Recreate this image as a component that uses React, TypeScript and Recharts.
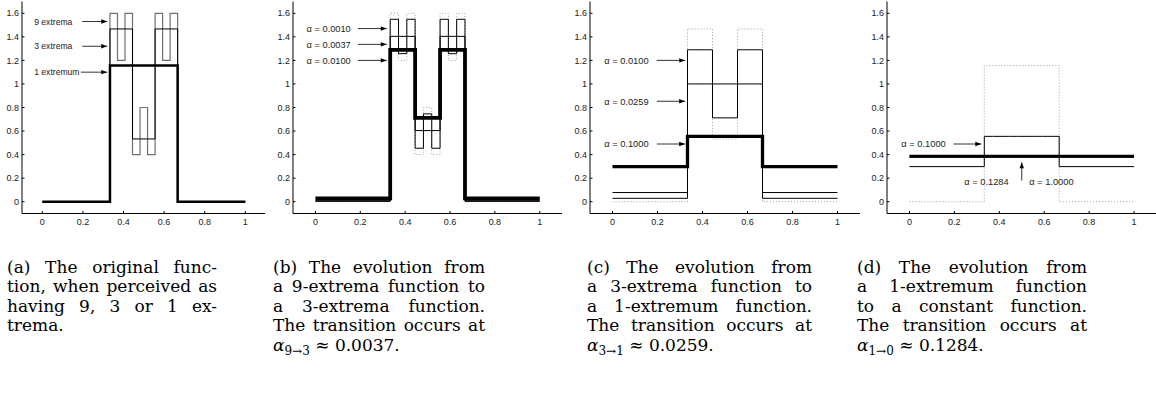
import React from 'react';
import { LineChart, Line, XAxis, YAxis, ReferenceLine, ReferenceDot } from 'recharts';

// ---------- data ----------
const BREAKS = [0, 0.3333, 0.3704, 0.4074, 0.4444, 0.4815, 0.5185, 0.5556, 0.5926, 0.6296, 0.6667, 1];
const X_TICKS = [0, 0.2, 0.4, 0.6, 0.8, 1];
const Y_TICKS = [0, 0.2, 0.4, 0.6, 0.8, 1, 1.2, 1.4, 1.6];

// original functions (9, 3, 1 extrema)
const F9 = [0, 1.6, 1.2, 1.6, 0.4, 0.8, 0.4, 1.6, 1.2, 1.6, 0];
const F3 = [0, 1.467, 1.467, 1.467, 0.533, 0.533, 0.533, 1.467, 1.467, 1.467, 0];
const F1 = [0, 1.156, 1.156, 1.156, 1.156, 1.156, 1.156, 1.156, 1.156, 1.156, 0];

// evolved functions
const A0010 = [0.003, 1.549, 1.257, 1.549, 0.454, 0.746, 0.454, 1.549, 1.257, 1.549, 0.003];
const A0037 = [0.009, 1.404, 1.404, 1.404, 0.604, 0.604, 0.604, 1.404, 1.404, 1.404, 0.009];
const A0100 = [0.029, 1.29, 1.29, 1.29, 0.712, 0.712, 0.712, 1.29, 1.29, 1.29, 0.029];
const A0259 = [0.078, 1.0, 1.0, 1.0, 1.0, 1.0, 1.0, 1.0, 1.0, 1.0, 0.078];
const A1000 = [0.298, 0.555, 0.555, 0.555, 0.555, 0.555, 0.555, 0.555, 0.555, 0.555, 0.298];
const A1284 = [0.378, 0.378, 0.378, 0.378, 0.378, 0.378, 0.378, 0.378, 0.378, 0.378, 0.378];
const A10000 = [0.386, 0.386, 0.386, 0.386, 0.386, 0.386, 0.386, 0.386, 0.386, 0.386, 0.386];

// annotation labels and arrows (data coordinates)
const LABELS_A = [
  { text: '9 extrema', x: -0.04, y: 1.53 },
  { text: '3 extrema', x: -0.04, y: 1.32 },
  { text: '1 extremum', x: -0.04, y: 1.1 },
];
const ARROWS_A = [
  { x1: 0.197, y1: 1.53, x2: 0.32, y2: 1.53 },
  { x1: 0.197, y1: 1.32, x2: 0.32, y2: 1.32 },
  { x1: 0.19, y1: 1.1, x2: 0.32, y2: 1.1 },
];
const LABELS_B = [
  { text: 'α = 0.0010', x: -0.04, y: 1.47 },
  { text: 'α = 0.0037', x: -0.04, y: 1.336 },
  { text: 'α = 0.0100', x: -0.04, y: 1.2 },
];
const ARROWS_B = [
  { x1: 0.189, y1: 1.47, x2: 0.318, y2: 1.47 },
  { x1: 0.189, y1: 1.336, x2: 0.318, y2: 1.336 },
  { x1: 0.189, y1: 1.2, x2: 0.318, y2: 1.2 },
];
const LABELS_C = [
  { text: 'α = 0.0100', x: -0.037, y: 1.2 },
  { text: 'α = 0.0259', x: -0.037, y: 0.853 },
  { text: 'α = 0.1000', x: -0.037, y: 0.49 },
];
const ARROWS_C = [
  { x1: 0.197, y1: 1.2, x2: 0.323, y2: 1.2 },
  { x1: 0.197, y1: 0.853, x2: 0.323, y2: 0.853 },
  { x1: 0.197, y1: 0.49, x2: 0.323, y2: 0.49 },
];
const LABELS_D = [
  { text: 'α = 0.1000', x: -0.036, y: 0.49 },
  { text: 'α = 0.1284', x: 0.244, y: 0.167 },
  { text: 'α = 1.0000', x: 0.533, y: 0.167 },
];
const ARROWS_D = [
  { x1: 0.196, y1: 0.49, x2: 0.32, y2: 0.49 },
  { x1: 0.5, y1: 0.18, x2: 0.5, y2: 0.335 },
];

const CAPTION_A = ['(a) The original func-', 'tion, when perceived as', 'having 9, 3 or 1 ex-', 'trema.'];
const CAPTION_B = ['(b) The evolution from', 'a 9-extrema function to', 'a 3-extrema function.', 'The transition occurs at'];
const CAPTION_C = ['(c) The evolution from', 'a 3-extrema function to', 'a 1-extremum function.', 'The transition occurs at'];
const CAPTION_D = ['(d) The evolution from', 'a 1-extremum function', 'to a constant function.', 'The transition occurs at'];
const MATH_B = { sub: '9→3', value: '0.0037.' };
const MATH_C = { sub: '3→1', value: '0.0259.' };
const MATH_D = { sub: '1→0', value: '0.1284.' };

// ---------- helpers ----------
const steps = (vals: number[]) => BREAKS.map((x, i) => ({ x, y: vals[Math.min(i, vals.length - 1)] }));

const STYLES: Record<string, { stroke: string; width: number; dash?: string }> = {
  dotted: { stroke: '#a0a0a0', width: 1, dash: '1 2' },
  gray: { stroke: '#707070', width: 1.2 },
  thin: { stroke: '#000', width: 1 },
};

const TICK_FONT = 'Liberation Sans, Arial, sans-serif';
const YTM = 3;
const XTM = 5;

const YTick = (p: any) => {
  const { x, y, payload } = p;
  return (
    <g>
      <line x1={x + YTM} x2={x + YTM + 2.5} y1={y} y2={y} stroke="#000" strokeWidth={1} />
      <text x={x} y={y} dy="0.35em" textAnchor="end" fontSize={9} fontFamily={TICK_FONT} fill="#222">
        {String(payload.value)}
      </text>
    </g>
  );
};
const XTick = (p: any) => {
  const { x, y, payload } = p;
  return (
    <g>
      <line x1={x} x2={x} y1={y - XTM} y2={y - XTM - 2.5} stroke="#000" strokeWidth={1} />
      <text x={x} y={y} dy="0.75em" textAnchor="middle" fontSize={9} fontFamily={TICK_FONT} fill="#222">
        {String(payload.value)}
      </text>
    </g>
  );
};

type Series = { vals: number[]; kind: string; width?: number };
type Lbl = { text: string; x: number; y: number };
type Arr = { x1: number; y1: number; x2: number; y2: number };

const YW = 30;
const XH = 20;
const TOP = 1.5;
const PH = 212;

function Panel({ left, plotW, series, labels, arrows, labelSize }: { left: number; plotW: number; series: Series[]; labels: Lbl[]; arrows: Arr[]; labelSize: number }) {
  return (
    <div style={{ position: 'absolute', left: left - YW, top: 0 }}>
      <LineChart width={YW + plotW} height={TOP + PH + XH} margin={{ top: TOP, right: 0, bottom: 0, left: 0 }}>
        <XAxis
          type="number"
          dataKey="x"
          domain={[-0.1, 1.1]}
          ticks={X_TICKS}
          allowDataOverflow
          interval={0}
          tickLine={false}
          tickSize={0}
          tickMargin={XTM}
          height={XH}
          axisLine={{ stroke: '#000', strokeWidth: 1 }}
          tick={(p: any) => <XTick {...p} />}
        />
        <YAxis
          type="number"
          domain={[-0.1, 1.7]}
          ticks={Y_TICKS}
          allowDataOverflow
          interval={0}
          tickLine={false}
          tickSize={0}
          tickMargin={YTM}
          width={YW}
          axisLine={{ stroke: '#000', strokeWidth: 1 }}
          tick={(p: any) => <YTick {...p} />}
        />
        {series.map((s, i) => {
          const st = s.kind === 'thick' ? { stroke: '#000', width: s.width || 3 } : STYLES[s.kind];
          return (
            <Line
              key={i}
              data={steps(s.vals)}
              dataKey="y"
              type="stepAfter"
              dot={false}
              activeDot={false}
              isAnimationActive={false}
              stroke={st.stroke}
              strokeWidth={st.width}
              strokeDasharray={(st as any).dash}
            />
          );
        })}
        {arrows.map((a, i) => (
          <ReferenceLine
            key={'al' + i}
            segment={[{ x: a.x1, y: a.y1 }, { x: a.x2, y: a.y2 }]}
            stroke="#333"
            strokeWidth={1}
            ifOverflow="visible"
          />
        ))}
        {arrows.map((a, i) => {
          const up = a.x1 === a.x2;
          return (
            <ReferenceDot
              key={'ah' + i}
              x={a.x2}
              y={a.y2}
              r={0}
              ifOverflow="visible"
              shape={(p: any) => {
                const { cx, cy } = p;
                const pts = up
                  ? `${cx},${cy} ${cx - 2.2},${cy + 6} ${cx + 2.2},${cy + 6}`
                  : `${cx},${cy} ${cx - 6},${cy - 2.2} ${cx - 6},${cy + 2.2}`;
                return <polygon points={pts} fill="#000" />;
              }}
            />
          );
        })}
        {labels.map((l, i) => (
          <ReferenceDot
            key={'lb' + i}
            x={l.x}
            y={l.y}
            r={0}
            ifOverflow="visible"
            shape={(p: any) => (
              <text x={p.cx} y={p.cy} dy="0.35em" fontSize={labelSize} fontFamily={TICK_FONT} fill="#222">
                {l.text}
              </text>
            )}
          />
        ))}
      </LineChart>
    </div>
  );
}

function Caption({ left, width, lines, math, lastPlain }: { left: number; width: number; lines: string[]; math?: { sub: string; value: string }; lastPlain?: boolean }) {
  return (
    <div
      style={{
        position: 'absolute',
        left,
        top: 257.5,
        width,
        fontFamily: 'DejaVu Serif, serif',
        fontSize: 17,
        lineHeight: '19.5px',
        color: '#000',
      }}
    >
      {lines.map((t, i) => {
        const justify = !(lastPlain && i === lines.length - 1);
        return (
          <div key={i} style={{ textAlign: justify ? 'justify' : 'left', textAlignLast: justify ? 'justify' : 'left', whiteSpace: 'nowrap' as any }}>
            {t}
          </div>
        );
      })}
      {math && (
        <div style={{ whiteSpace: 'nowrap' }}>
          <i>α</i>
          <span style={{ fontSize: 12, position: 'relative', top: 4 }}>{math.sub}</span> ≈ {math.value}
        </div>
      )}
    </div>
  );
}

export default function App() {
  return (
    <div style={{ position: 'absolute', left: 0, top: 0, width: 1156, height: 394, overflow: 'hidden', background: '#fff' }}>
      <Panel
        left={21.7}
        plotW={243.6}
        labelSize={8.6}
        series={[
          { vals: F9, kind: 'gray' },
          { vals: F3, kind: 'thin' },
          { vals: F1, kind: 'thick', width: 2.5 },
        ]}
        labels={LABELS_A}
        arrows={ARROWS_A}
      />
      <Panel
        left={293.3}
        plotW={269.2}
        labelSize={9.3}
        series={[
          { vals: F9, kind: 'dotted' },
          { vals: A0010, kind: 'thin' },
          { vals: A0037, kind: 'thin' },
          { vals: A0100, kind: 'thick', width: 3.8 },
        ]}
        labels={LABELS_B}
        arrows={ARROWS_B}
      />
      <Panel
        left={589.8}
        plotW={270}
        labelSize={9.3}
        series={[
          { vals: F3, kind: 'dotted' },
          { vals: A0100, kind: 'thin' },
          { vals: A0259, kind: 'thin' },
          { vals: A1000, kind: 'thick', width: 3.3 },
        ]}
        labels={LABELS_C}
        arrows={ARROWS_C}
      />
      <Panel
        left={886.5}
        plotW={269.5}
        labelSize={9.3}
        series={[
          { vals: F1, kind: 'dotted' },
          { vals: A1000, kind: 'thin' },
          { vals: A1284, kind: 'thin' },
          { vals: A10000, kind: 'thick', width: 2.8 },
        ]}
        labels={LABELS_D}
        arrows={ARROWS_D}
      />
      <Caption left={7} width={210} lines={CAPTION_A} lastPlain />
      <Caption left={273} width={212} lines={CAPTION_B} math={MATH_B} />
      <Caption left={587} width={225} lines={CAPTION_C} math={MATH_C} />
      <Caption left={857} width={230} lines={CAPTION_D} math={MATH_D} />
    </div>
  );
}
